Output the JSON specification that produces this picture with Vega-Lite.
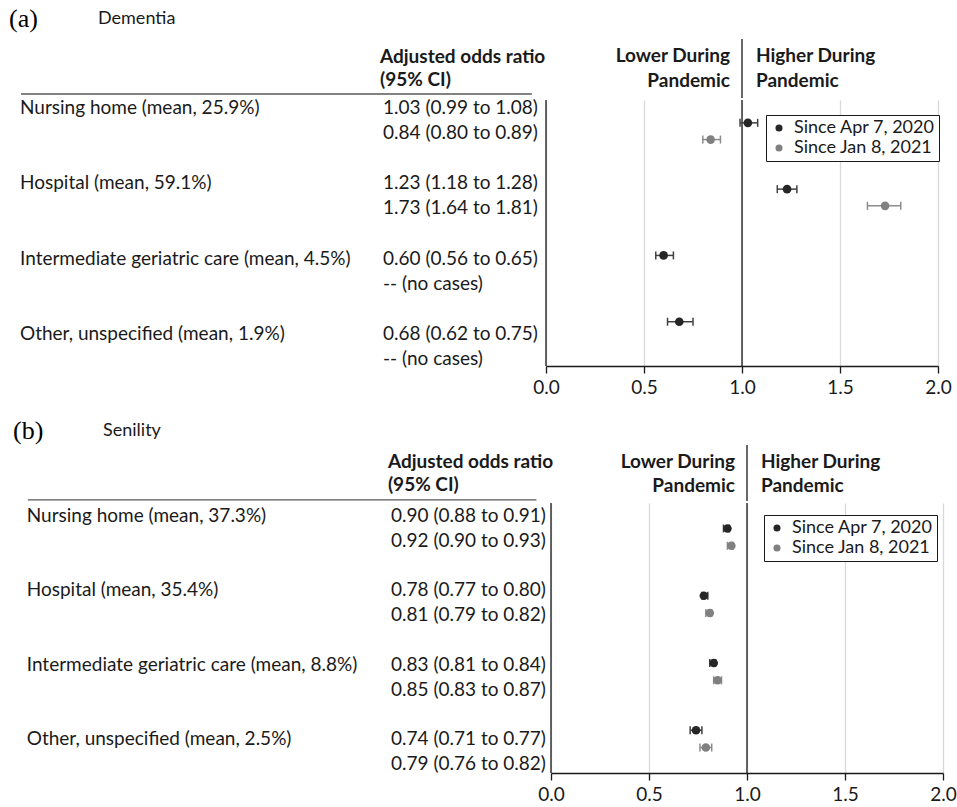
{
  "$schema": "https://vega.github.io/schema/vega-lite/v6.json",
  "padding": 0,
  "background": "white",
  "config": {
    "font": "Lato",
    "view": {"stroke": null},
    "text": {"fontSize": 19, "color": "#1a1a1a"},
    "axisX": {"grid": true, "gridColor": "#d9d9d9", "gridWidth": 1.3, "domainColor": "#1a1a1a", "domainWidth": 1.3, "tickColor": "#1a1a1a", "tickSize": 7, "tickWidth": 1.3, "labelFontSize": 19, "labelColor": "#1a1a1a", "labelPadding": 5, "labelFlush": false, "title": null}
  },
  "datasets": {
    "dem": [
      {"place": "Nursing home", "label": "Nursing home (mean, 25.9%)", "period": "Since Apr 7, 2020", "or": 1.03, "lo": 0.99, "hi": 1.08, "ci": "1.03 (0.99 to 1.08)"},
      {"place": "Nursing home", "label": "Nursing home (mean, 25.9%)", "period": "Since Jan 8, 2021", "or": 0.84, "lo": 0.80, "hi": 0.89, "ci": "0.84 (0.80 to 0.89)"},
      {"place": "Hospital", "label": "Hospital (mean, 59.1%)", "period": "Since Apr 7, 2020", "or": 1.23, "lo": 1.18, "hi": 1.28, "ci": "1.23 (1.18 to 1.28)"},
      {"place": "Hospital", "label": "Hospital (mean, 59.1%)", "period": "Since Jan 8, 2021", "or": 1.73, "lo": 1.64, "hi": 1.81, "ci": "1.73 (1.64 to 1.81)"},
      {"place": "Intermediate geriatric care", "label": "Intermediate geriatric care (mean, 4.5%)", "period": "Since Apr 7, 2020", "or": 0.60, "lo": 0.56, "hi": 0.65, "ci": "0.60 (0.56 to 0.65)"},
      {"place": "Intermediate geriatric care", "label": "Intermediate geriatric care (mean, 4.5%)", "period": "Since Jan 8, 2021", "or": null, "lo": null, "hi": null, "ci": "-- (no cases)"},
      {"place": "Other, unspecified", "label": "Other, unspecified (mean, 1.9%)", "period": "Since Apr 7, 2020", "or": 0.68, "lo": 0.62, "hi": 0.75, "ci": "0.68 (0.62 to 0.75)"},
      {"place": "Other, unspecified", "label": "Other, unspecified (mean, 1.9%)", "period": "Since Jan 8, 2021", "or": null, "lo": null, "hi": null, "ci": "-- (no cases)"}
    ],
    "sen": [
      {"place": "Nursing home", "label": "Nursing home (mean, 37.3%)", "period": "Since Apr 7, 2020", "or": 0.90, "lo": 0.88, "hi": 0.91, "ci": "0.90 (0.88 to 0.91)"},
      {"place": "Nursing home", "label": "Nursing home (mean, 37.3%)", "period": "Since Jan 8, 2021", "or": 0.92, "lo": 0.90, "hi": 0.93, "ci": "0.92 (0.90 to 0.93)"},
      {"place": "Hospital", "label": "Hospital (mean, 35.4%)", "period": "Since Apr 7, 2020", "or": 0.78, "lo": 0.77, "hi": 0.80, "ci": "0.78 (0.77 to 0.80)"},
      {"place": "Hospital", "label": "Hospital (mean, 35.4%)", "period": "Since Jan 8, 2021", "or": 0.81, "lo": 0.79, "hi": 0.82, "ci": "0.81 (0.79 to 0.82)"},
      {"place": "Intermediate geriatric care", "label": "Intermediate geriatric care (mean, 8.8%)", "period": "Since Apr 7, 2020", "or": 0.83, "lo": 0.81, "hi": 0.84, "ci": "0.83 (0.81 to 0.84)"},
      {"place": "Intermediate geriatric care", "label": "Intermediate geriatric care (mean, 8.8%)", "period": "Since Jan 8, 2021", "or": 0.85, "lo": 0.83, "hi": 0.87, "ci": "0.85 (0.83 to 0.87)"},
      {"place": "Other, unspecified", "label": "Other, unspecified (mean, 2.5%)", "period": "Since Apr 7, 2020", "or": 0.74, "lo": 0.71, "hi": 0.77, "ci": "0.74 (0.71 to 0.77)"},
      {"place": "Other, unspecified", "label": "Other, unspecified (mean, 2.5%)", "period": "Since Jan 8, 2021", "or": 0.79, "lo": 0.76, "hi": 0.82, "ci": "0.79 (0.76 to 0.82)"}
    ]
  },
  "spacing": 21,
  "resolve": {"scale": {"x": "independent", "y": "independent", "color": "independent"}, "legend": {"color": "independent"}},
  "vconcat": [
    {
      "spacing": 0,
      "resolve": {"scale": {"x": "independent", "y": "independent", "color": "independent"}, "legend": {"color": "independent"}},
      "vconcat": [
        {
          "width": 546, "height": 38,
          "data": {"values": [{}]},
          "layer": [
            {"mark": {"type": "text", "text": "(a)", "align": "left", "baseline": "middle", "font": "Liberation Serif", "fontSize": 26, "dx": 9, "color": "#000"},
             "encoding": {"x": {"datum": 0, "type": "quantitative", "scale": {"domain": [0, 1]}, "axis": null}}},
            {"mark": {"type": "text", "text": "Dementia", "align": "left", "baseline": "middle", "fontSize": 18, "dx": 98},
             "encoding": {"x": {"datum": 0, "type": "quantitative", "scale": {"domain": [0, 1]}, "axis": null}}}
          ]
        },
        {
          "spacing": 0, "bounds": "flush",
          "resolve": {"scale": {"x": "independent", "y": "independent"}},
          "hconcat": [
            {
              "width": 546, "height": 59,
              "data": {"values": [{}]},
              "layer": [
                {"mark": {"type": "text", "text": ["Adjusted odds ratio", "(95% CI)"], "align": "left", "baseline": "middle", "fontWeight": "bold", "lineHeight": 23, "dy": -12},
                 "encoding": {"x": {"datum": 0.696, "type": "quantitative", "scale": {"domain": [0, 1]}, "axis": null}}},
                {"mark": {"type": "rule", "color": "#595959", "strokeWidth": 1.3},
                 "encoding": {"x": {"datum": 0.0385, "type": "quantitative", "scale": {"domain": [0, 1]}, "axis": null}, "x2": {"datum": 0.974},
                              "y": {"datum": 0.068, "type": "quantitative", "scale": {"domain": [0, 1]}, "axis": null}}}
              ]
            },
            {
              "width": 392, "height": 59,
              "data": {"values": [{}]},
              "layer": [
                {"mark": {"type": "rule", "color": "#1a1a1a", "strokeWidth": 1.3},
                 "encoding": {"x": {"datum": 1, "type": "quantitative", "scale": {"domain": [0, 2]}, "axis": null}}},
                {"mark": {"type": "text", "text": ["Lower During", "Pandemic"], "align": "right", "baseline": "middle", "fontWeight": "bold", "lineHeight": 25, "dx": -12, "dy": -13},
                 "encoding": {"x": {"datum": 1, "type": "quantitative", "scale": {"domain": [0, 2]}, "axis": null}}},
                {"mark": {"type": "text", "text": ["Higher During", "Pandemic"], "align": "left", "baseline": "middle", "fontWeight": "bold", "lineHeight": 25, "dx": 14, "dy": -13},
                 "encoding": {"x": {"datum": 1, "type": "quantitative", "scale": {"domain": [0, 2]}, "axis": null}}}
              ]
            }
          ]
        },
        {
          "spacing": 0, "bounds": "flush",
          "resolve": {"scale": {"x": "independent", "y": "independent", "color": "independent"}, "legend": {"color": "independent"}},
          "hconcat": [
            {
              "width": 546, "height": 276,
              "data": {"name": "dem"},
              "layer": [
                {"transform": [{"filter": "datum.period === 'Since Apr 7, 2020'"}],
                 "mark": {"type": "text", "align": "left", "baseline": "middle", "dy": -4.5},
                 "encoding": {"x": {"datum": 0.0366, "type": "quantitative", "scale": {"domain": [0, 1]}, "axis": null},
                              "y": {"field": "place", "type": "nominal", "bandPosition": 0.25, "scale": {"type": "band", "domain": ["Nursing home", "Hospital", "Intermediate geriatric care", "Other, unspecified"], "paddingInner": 0.3333, "paddingOuter": 0}, "axis": null},
                              "text": {"field": "label"}}},
                {"transform": [{"filter": "datum.period === 'Since Apr 7, 2020'"}],
                 "mark": {"type": "text", "align": "left", "baseline": "middle", "dy": -4.5},
                 "encoding": {"x": {"datum": 0.7015, "type": "quantitative", "scale": {"domain": [0, 1]}, "axis": null},
                              "y": {"field": "place", "type": "nominal", "bandPosition": 0.25, "axis": null},
                              "text": {"field": "ci"}}},
                {"transform": [{"filter": "datum.period === 'Since Jan 8, 2021'"}],
                 "mark": {"type": "text", "align": "left", "baseline": "middle", "dy": -4.5},
                 "encoding": {"x": {"datum": 0.7015, "type": "quantitative", "scale": {"domain": [0, 1]}, "axis": null},
                              "y": {"field": "place", "type": "nominal", "bandPosition": 0.75, "axis": null},
                              "text": {"field": "ci"}}}
              ]
            },
            {
              "width": 392, "height": 266,
              "data": {"name": "dem"},
              "layer": [
                {"data": {"values": [{}]}, "mark": {"type": "rule", "color": "#1a1a1a", "strokeWidth": 1.3},
                 "encoding": {"x": {"datum": 0, "type": "quantitative", "scale": {"domain": [0, 2], "nice": false}, "axis": {"values": [0, 0.5, 1, 1.5, 2], "format": ".1f"}}}},
                {"data": {"values": [{}]}, "mark": {"type": "rule", "color": "#1a1a1a", "strokeWidth": 1.3},
                 "encoding": {"x": {"datum": 1, "type": "quantitative", "scale": {"domain": [0, 2], "nice": false}, "axis": {"values": [0, 0.5, 1, 1.5, 2], "format": ".1f"}}}},
                {"transform": [{"filter": "datum.period === 'Since Apr 7, 2020'"}],
                 "mark": {"type": "rule", "strokeWidth": 1.5, "color": "#404040"},
                 "encoding": {
                   "x": {"field": "lo", "type": "quantitative", "scale": {"domain": [0, 2], "nice": false}, "axis": {"values": [0, 0.5, 1, 1.5, 2], "format": ".1f"}},
                   "x2": {"field": "hi"},
                   "y": {"field": "place", "type": "nominal", "bandPosition": 0.25, "scale": {"type": "band", "domain": ["Nursing home", "Hospital", "Intermediate geriatric care", "Other, unspecified"], "paddingInner": 0.4955, "paddingOuter": 0.254, "align": 0.43}, "axis": null}
                 }},
                {"transform": [{"filter": "datum.period === 'Since Jan 8, 2021'"}],
                 "mark": {"type": "rule", "strokeWidth": 1.5, "color": "#8c8c8c"},
                 "encoding": {
                   "x": {"field": "lo", "type": "quantitative", "scale": {"domain": [0, 2], "nice": false}, "axis": {"values": [0, 0.5, 1, 1.5, 2], "format": ".1f"}},
                   "x2": {"field": "hi"},
                   "y": {"field": "place", "type": "nominal", "bandPosition": 0.75, "axis": null}
                 }},
                {"transform": [{"filter": "datum.period === 'Since Apr 7, 2020'"}, {"fold": ["lo", "hi"], "as": ["end", "endval"]}],
                 "mark": {"type": "point", "shape": "M0,-1L0,1", "size": 64, "strokeWidth": 1.5, "filled": false, "opacity": 1, "color": "#404040"},
                 "encoding": {
                   "x": {"field": "endval", "type": "quantitative", "scale": {"domain": [0, 2], "nice": false}, "axis": {"values": [0, 0.5, 1, 1.5, 2], "format": ".1f"}},
                   "y": {"field": "place", "type": "nominal", "bandPosition": 0.25, "axis": null}
                 }},
                {"transform": [{"filter": "datum.period === 'Since Jan 8, 2021'"}, {"fold": ["lo", "hi"], "as": ["end", "endval"]}],
                 "mark": {"type": "point", "shape": "M0,-1L0,1", "size": 64, "strokeWidth": 1.5, "filled": false, "opacity": 1, "color": "#8c8c8c"},
                 "encoding": {
                   "x": {"field": "endval", "type": "quantitative", "scale": {"domain": [0, 2], "nice": false}, "axis": {"values": [0, 0.5, 1, 1.5, 2], "format": ".1f"}},
                   "y": {"field": "place", "type": "nominal", "bandPosition": 0.75, "axis": null}
                 }},
                {"transform": [{"filter": "datum.period === 'Since Apr 7, 2020'"}],
                 "mark": {"type": "point", "filled": true, "size": 75, "opacity": 1},
                 "encoding": {
                   "x": {"field": "or", "type": "quantitative", "scale": {"domain": [0, 2], "nice": false}, "axis": {"values": [0, 0.5, 1, 1.5, 2], "format": ".1f"}},
                   "y": {"field": "place", "type": "nominal", "bandPosition": 0.25, "axis": null},
                   "color": {"field": "period", "type": "nominal", "scale": {"domain": ["Since Apr 7, 2020", "Since Jan 8, 2021"], "range": ["#262626", "#808080"]},
                             "legend": {"orient": "none", "legendX": 220, "legendY": 15, "title": null, "strokeColor": "#1a1a1a", "fillColor": "white", "padding": 4, "labelFontSize": 18, "labelColor": "#1a1a1a", "symbolSize": 50, "symbolType": "circle", "rowPadding": 2, "labelOffset": 6, "symbolStrokeWidth": 0}}
                 }},
                {"transform": [{"filter": "datum.period === 'Since Jan 8, 2021'"}],
                 "mark": {"type": "point", "filled": true, "size": 75, "opacity": 1},
                 "encoding": {
                   "x": {"field": "or", "type": "quantitative", "scale": {"domain": [0, 2], "nice": false}, "axis": {"values": [0, 0.5, 1, 1.5, 2], "format": ".1f"}},
                   "y": {"field": "place", "type": "nominal", "bandPosition": 0.75, "axis": null},
                   "color": {"field": "period", "type": "nominal", "scale": {"domain": ["Since Apr 7, 2020", "Since Jan 8, 2021"], "range": ["#262626", "#808080"]},
                             "legend": {"orient": "none", "legendX": 220, "legendY": 15, "title": null, "strokeColor": "#1a1a1a", "fillColor": "white", "padding": 4, "labelFontSize": 18, "labelColor": "#1a1a1a", "symbolSize": 50, "symbolType": "circle", "rowPadding": 2, "labelOffset": 6, "symbolStrokeWidth": 0}}
                 }}
              ]
            }
          ]
        }
      ]
    },
    {
      "spacing": 0,
      "resolve": {"scale": {"x": "independent", "y": "independent", "color": "independent"}, "legend": {"color": "independent"}},
      "vconcat": [
        {
          "width": 551, "height": 26,
          "data": {"values": [{}]},
          "layer": [
            {"mark": {"type": "text", "text": "(b)", "align": "left", "baseline": "middle", "font": "Liberation Serif", "fontSize": 26, "dx": 13, "color": "#000"},
             "encoding": {"x": {"datum": 0, "type": "quantitative", "scale": {"domain": [0, 1]}, "axis": null}}},
            {"mark": {"type": "text", "text": "Senility", "align": "left", "baseline": "middle", "fontSize": 18, "dx": 103},
             "encoding": {"x": {"datum": 0, "type": "quantitative", "scale": {"domain": [0, 1]}, "axis": null}}}
          ]
        },
        {
          "spacing": 0, "bounds": "flush",
          "resolve": {"scale": {"x": "independent", "y": "independent"}},
          "hconcat": [
            {
              "width": 551, "height": 56,
              "data": {"values": [{}]},
              "layer": [
                {"mark": {"type": "text", "text": ["Adjusted odds ratio", "(95% CI)"], "align": "left", "baseline": "middle", "fontWeight": "bold", "lineHeight": 23, "dy": -11},
                 "encoding": {"x": {"datum": 0.704, "type": "quantitative", "scale": {"domain": [0, 1]}, "axis": null}}},
                {"mark": {"type": "rule", "color": "#595959", "strokeWidth": 1.3},
                 "encoding": {"x": {"datum": 0.0505, "type": "quantitative", "scale": {"domain": [0, 1]}, "axis": null}, "x2": {"datum": 0.9735},
                              "y": {"datum": 0.02, "type": "quantitative", "scale": {"domain": [0, 1]}, "axis": null}}}
              ]
            },
            {
              "width": 392, "height": 56,
              "data": {"values": [{}]},
              "layer": [
                {"mark": {"type": "rule", "color": "#1a1a1a", "strokeWidth": 1.3},
                 "encoding": {"x": {"datum": 1, "type": "quantitative", "scale": {"domain": [0, 2]}, "axis": null}}},
                {"mark": {"type": "text", "text": ["Lower During", "Pandemic"], "align": "right", "baseline": "middle", "fontWeight": "bold", "lineHeight": 24, "dx": -12, "dy": -11.5},
                 "encoding": {"x": {"datum": 1, "type": "quantitative", "scale": {"domain": [0, 2]}, "axis": null}}},
                {"mark": {"type": "text", "text": ["Higher During", "Pandemic"], "align": "left", "baseline": "middle", "fontWeight": "bold", "lineHeight": 24, "dx": 14, "dy": -11.5},
                 "encoding": {"x": {"datum": 1, "type": "quantitative", "scale": {"domain": [0, 2]}, "axis": null}}}
              ]
            }
          ]
        },
        {
          "spacing": 0, "bounds": "flush",
          "resolve": {"scale": {"x": "independent", "y": "independent", "color": "independent"}, "legend": {"color": "independent"}},
          "hconcat": [
            {
              "width": 551, "height": 273,
              "data": {"name": "sen"},
              "layer": [
                {"transform": [{"filter": "datum.period === 'Since Apr 7, 2020'"}],
                 "mark": {"type": "text", "align": "left", "baseline": "middle", "dy": 0.5},
                 "encoding": {"x": {"datum": 0.0485, "type": "quantitative", "scale": {"domain": [0, 1]}, "axis": null},
                              "y": {"field": "place", "type": "nominal", "bandPosition": 0.25, "scale": {"type": "band", "domain": ["Nursing home", "Hospital", "Intermediate geriatric care", "Other, unspecified"], "paddingInner": 0.328, "paddingOuter": 0}, "axis": null},
                              "text": {"field": "label"}}},
                {"transform": [{"filter": "datum.period === 'Since Apr 7, 2020'"}],
                 "mark": {"type": "text", "align": "left", "baseline": "middle", "dy": 0.5},
                 "encoding": {"x": {"datum": 0.7096, "type": "quantitative", "scale": {"domain": [0, 1]}, "axis": null},
                              "y": {"field": "place", "type": "nominal", "bandPosition": 0.25, "axis": null},
                              "text": {"field": "ci"}}},
                {"transform": [{"filter": "datum.period === 'Since Jan 8, 2021'"}],
                 "mark": {"type": "text", "align": "left", "baseline": "middle", "dy": 0.5},
                 "encoding": {"x": {"datum": 0.7096, "type": "quantitative", "scale": {"domain": [0, 1]}, "axis": null},
                              "y": {"field": "place", "type": "nominal", "bandPosition": 0.75, "axis": null},
                              "text": {"field": "ci"}}}
              ]
            },
            {
              "width": 392, "height": 270,
              "data": {"name": "sen"},
              "layer": [
                {"data": {"values": [{}]}, "mark": {"type": "rule", "color": "#1a1a1a", "strokeWidth": 1.3},
                 "encoding": {"x": {"datum": 0, "type": "quantitative", "scale": {"domain": [0, 2], "nice": false}, "axis": {"values": [0, 0.5, 1, 1.5, 2], "format": ".1f"}}}},
                {"data": {"values": [{}]}, "mark": {"type": "rule", "color": "#1a1a1a", "strokeWidth": 1.3},
                 "encoding": {"x": {"datum": 1, "type": "quantitative", "scale": {"domain": [0, 2], "nice": false}, "axis": {"values": [0, 0.5, 1, 1.5, 2], "format": ".1f"}}}},
                {"transform": [{"filter": "datum.period === 'Since Apr 7, 2020'"}],
                 "mark": {"type": "rule", "strokeWidth": 1.5, "color": "#404040"},
                 "encoding": {
                   "x": {"field": "lo", "type": "quantitative", "scale": {"domain": [0, 2], "nice": false}, "axis": {"values": [0, 0.5, 1, 1.5, 2], "format": ".1f"}},
                   "x2": {"field": "hi"},
                   "y": {"field": "place", "type": "nominal", "bandPosition": 0.25, "scale": {"type": "band", "domain": ["Nursing home", "Hospital", "Intermediate geriatric care", "Other, unspecified"], "paddingInner": 0.485, "paddingOuter": 0.25}, "axis": null}
                 }},
                {"transform": [{"filter": "datum.period === 'Since Jan 8, 2021'"}],
                 "mark": {"type": "rule", "strokeWidth": 1.5, "color": "#8c8c8c"},
                 "encoding": {
                   "x": {"field": "lo", "type": "quantitative", "scale": {"domain": [0, 2], "nice": false}, "axis": {"values": [0, 0.5, 1, 1.5, 2], "format": ".1f"}},
                   "x2": {"field": "hi"},
                   "y": {"field": "place", "type": "nominal", "bandPosition": 0.75, "axis": null}
                 }},
                {"transform": [{"filter": "datum.period === 'Since Apr 7, 2020'"}, {"fold": ["lo", "hi"], "as": ["end", "endval"]}],
                 "mark": {"type": "point", "shape": "M0,-1L0,1", "size": 64, "strokeWidth": 1.5, "filled": false, "opacity": 1, "color": "#404040"},
                 "encoding": {
                   "x": {"field": "endval", "type": "quantitative", "scale": {"domain": [0, 2], "nice": false}, "axis": {"values": [0, 0.5, 1, 1.5, 2], "format": ".1f"}},
                   "y": {"field": "place", "type": "nominal", "bandPosition": 0.25, "axis": null}
                 }},
                {"transform": [{"filter": "datum.period === 'Since Jan 8, 2021'"}, {"fold": ["lo", "hi"], "as": ["end", "endval"]}],
                 "mark": {"type": "point", "shape": "M0,-1L0,1", "size": 64, "strokeWidth": 1.5, "filled": false, "opacity": 1, "color": "#8c8c8c"},
                 "encoding": {
                   "x": {"field": "endval", "type": "quantitative", "scale": {"domain": [0, 2], "nice": false}, "axis": {"values": [0, 0.5, 1, 1.5, 2], "format": ".1f"}},
                   "y": {"field": "place", "type": "nominal", "bandPosition": 0.75, "axis": null}
                 }},
                {"transform": [{"filter": "datum.period === 'Since Apr 7, 2020'"}],
                 "mark": {"type": "point", "filled": true, "size": 75, "opacity": 1},
                 "encoding": {
                   "x": {"field": "or", "type": "quantitative", "scale": {"domain": [0, 2], "nice": false}, "axis": {"values": [0, 0.5, 1, 1.5, 2], "format": ".1f"}},
                   "y": {"field": "place", "type": "nominal", "bandPosition": 0.25, "axis": null},
                   "color": {"field": "period", "type": "nominal", "scale": {"domain": ["Since Apr 7, 2020", "Since Jan 8, 2021"], "range": ["#262626", "#808080"]},
                             "legend": {"orient": "none", "legendX": 213, "legendY": 12, "title": null, "strokeColor": "#1a1a1a", "fillColor": "white", "padding": 4, "labelFontSize": 18, "labelColor": "#1a1a1a", "symbolSize": 50, "symbolType": "circle", "rowPadding": 2, "labelOffset": 6, "symbolStrokeWidth": 0}}
                 }},
                {"transform": [{"filter": "datum.period === 'Since Jan 8, 2021'"}],
                 "mark": {"type": "point", "filled": true, "size": 75, "opacity": 1},
                 "encoding": {
                   "x": {"field": "or", "type": "quantitative", "scale": {"domain": [0, 2], "nice": false}, "axis": {"values": [0, 0.5, 1, 1.5, 2], "format": ".1f"}},
                   "y": {"field": "place", "type": "nominal", "bandPosition": 0.75, "axis": null},
                   "color": {"field": "period", "type": "nominal", "scale": {"domain": ["Since Apr 7, 2020", "Since Jan 8, 2021"], "range": ["#262626", "#808080"]},
                             "legend": {"orient": "none", "legendX": 213, "legendY": 12, "title": null, "strokeColor": "#1a1a1a", "fillColor": "white", "padding": 4, "labelFontSize": 18, "labelColor": "#1a1a1a", "symbolSize": 50, "symbolType": "circle", "rowPadding": 2, "labelOffset": 6, "symbolStrokeWidth": 0}}
                 }}
              ]
            }
          ]
        }
      ]
    }
  ]
}
